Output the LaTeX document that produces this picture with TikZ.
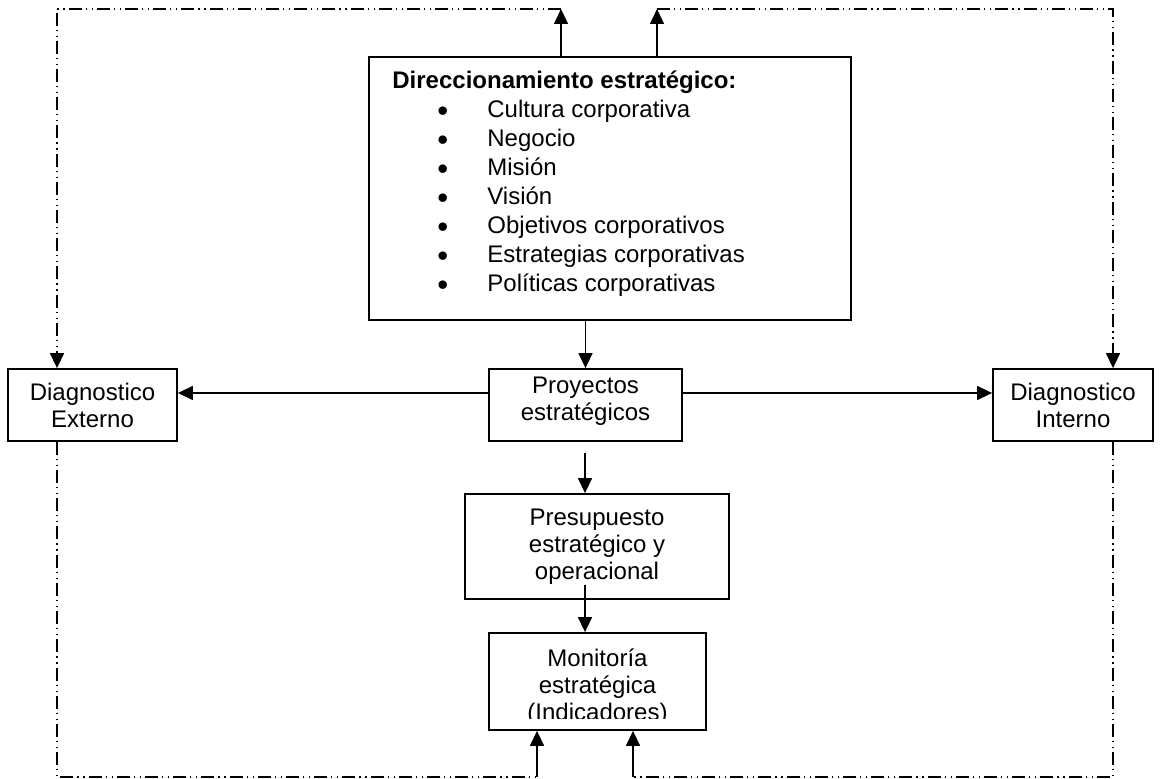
\documentclass[tikz,border=0pt]{standalone}
\usepackage{fontspec}
\usepackage{graphicx}
\setmainfont{Liberation Sans}
\usetikzlibrary{arrows.meta}
\newcommand{\bul}{\makebox[47.5pt][l]{\hspace*{22.5pt}\smash{\raisebox{-1.6pt}{\scalebox{1.3}{\textbullet}}}}}

\begin{document}
\begin{tikzpicture}[x=0.5pt,y=-0.5pt,
	box/.style={draw,line width=0.9pt,inner sep=0pt,align=center,font=\fontsize{12}{13.5}\selectfont},
	flecha/.style={line width=0.75pt,-{Triangle[length=7.5pt,width=7pt]}},
	retro/.style={line width=0.75pt,dash pattern=on 6.5pt off 2pt on 0.6pt off 2.4pt on 0.6pt off 2pt}
]
	\useasboundingbox (0,0) rectangle (1160,779);
	% cajas
	\node[box,minimum width=241pt,minimum height=131.5pt] (dir) at (610,188.5) {};
	\node[anchor=north west,inner sep=0pt,align=left,font=\fontsize{12}{14.5}\selectfont] (dtxt) at (392,71)
		{\textbf{Direccionamiento estratégico:}\\
		\bul Cultura corporativa\\
		\bul Negocio\\
		\bul Misión\\
		\bul Visión\\
		\bul Objetivos corporativos\\
		\bul Estrategias corporativas\\
		\bul Políticas corporativas};
	\node[box,minimum width=96.5pt,minimum height=36pt,path picture={
		\clip (path picture bounding box.north west) rectangle ([yshift=2pt]path picture bounding box.south east);
		\node[draw=none,inner sep=0pt,align=center] (ptxt) at ([yshift=2pt]path picture bounding box.center) {Proyectos\\estratégicos};
	}] (pro) at (585.5,405) {};
	\node[box,minimum width=84.5pt,minimum height=36pt] (ext) at (92.5,405) {Diagnostico\\Externo};
	\node[box,minimum width=80pt,minimum height=36pt] (int) at (1073,405) {Diagnostico\\Interno};
	\node[box,minimum width=132pt,minimum height=52.5pt] (pre) at (597,546.5) {Presupuesto\\estratégico y\\operacional};
	\node[box,minimum width=108.5pt,minimum height=48.5pt,path picture={
		\clip (path picture bounding box.north west) rectangle ([yshift=6pt]path picture bounding box.south east);
		\node[draw=none,inner sep=0pt,align=center] (mtxt) at ([yshift=-3pt]path picture bounding box.center) {Monitoría\\estratégica\\(Indicadores)};
	}] (mon) at (597.5,681.5) {};
	% puntos de paso
	\coordinate (t1) at (561,9);
	\coordinate (t2) at (657,9);
	\coordinate (e1) at (57,9);
	\coordinate (i1) at (1113,9);
	\coordinate (ci) at (57,777);
	\coordinate (cd) at (1113,777);
	\coordinate (b1) at (537,777);
	\coordinate (b2) at (633,777);
	\coordinate (m1) at (585,453);
	\coordinate (m2) at (585,585);
	% flechas
	\draw[flecha] (pro.north |- dir.south) -- (pro.north);
	\draw[flecha] ([yshift=6pt]pro.west) -- ([yshift=6pt]ext.east);
	\draw[flecha] ([yshift=6pt]pro.east) -- ([yshift=6pt]int.west);
	\draw[flecha] (m1) -- (m1 |- pre.north);
	\draw[flecha] (m2) -- (m2 |- mon.north);
	\draw[flecha] (t1 |- dir.north) -- (t1);
	\draw[flecha] (t2 |- dir.north) -- (t2);
	\draw[flecha] (b1) -- (b1 |- mon.south);
	\draw[flecha] (b2) -- (b2 |- mon.south);
	% lazos punteados
	\draw[retro,-{Triangle[length=7.5pt,width=7pt]}] (t1) -- (e1) -- (e1 |- ext.north);
	\draw[retro,-{Triangle[length=7.5pt,width=7pt]}] (t2) -- (i1) -- (i1 |- int.north);
	\draw[retro] (e1 |- ext.south) -- (ci) -- (b1);
	\draw[retro] (i1 |- int.south) -- (cd) -- (b2);
\end{tikzpicture}
\end{document}
